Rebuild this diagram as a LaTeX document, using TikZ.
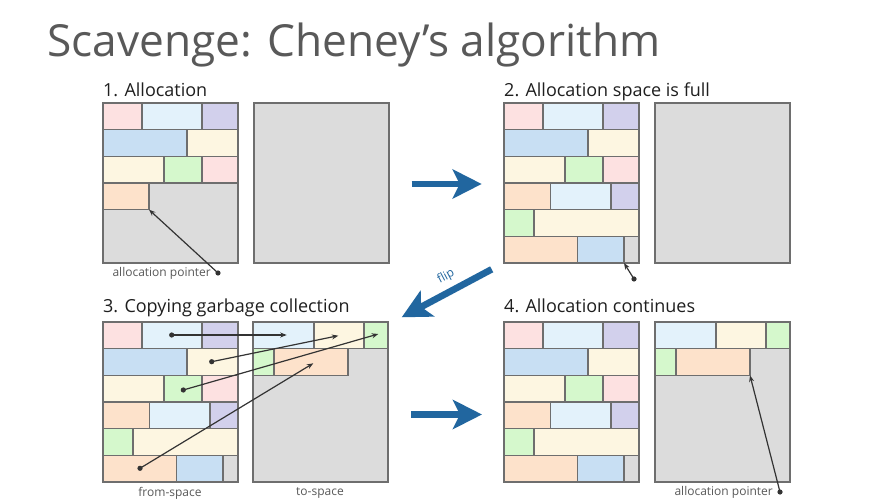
\documentclass[tikz,border=0pt]{standalone}
\usepackage{fontspec}
\setmainfont{Open Sans}
\usetikzlibrary{arrows.meta}
\definecolor{cpink}{HTML}{FDE1E1}
\definecolor{clblue}{HTML}{E3F2FB}
\definecolor{cpurple}{HTML}{D2D0EC}
\definecolor{cblue}{HTML}{C8DFF3}
\definecolor{ccream}{HTML}{FDF6E1}
\definecolor{cgreen}{HTML}{D5F8CC}
\definecolor{cpeach}{HTML}{FDE2CB}
\definecolor{cgray}{HTML}{DCDCDC}
\definecolor{cline}{HTML}{6E6E6E}
\definecolor{cbluearrow}{HTML}{21669F}
\definecolor{ctext}{HTML}{595959}
\definecolor{cptr}{HTML}{333333}
\tikzset{
  cell/.style={draw=cline, line width=1.1pt},
  spacebox/.style={draw=cline, line width=1.2pt, fill=cgray},
  heading/.style={anchor=base west, inner sep=0pt, font=\fontsize{18}{20}\selectfont, text=black!88},
  small/.style={inner sep=0pt, font=\fontsize{12}{14}\selectfont, text=ctext},
  bigarrow/.style={draw=cbluearrow, line width=6.7pt, -{Stealth[length=29pt,width=29pt,inset=7pt]}},
  ptr/.style={draw=cptr, line width=1.2pt, -{Stealth[length=6.5pt,width=5pt]}},
  ptrdot/.style={fill=cptr, draw=none},
}
% cell: x1 x2 row color
\newcommand{\cellrow}[4]{\draw[cell, fill=#4] (#1,{#3*26.667}) rectangle (#2,{(#3+1)*26.667});}
\newcommand{\fullfrom}{%
  \cellrow{0}{39}{0}{cpink}\cellrow{39}{99}{0}{clblue}\cellrow{99}{135}{0}{cpurple}
  \cellrow{0}{84}{1}{cblue}\cellrow{84}{135}{1}{ccream}
  \cellrow{0}{61}{2}{ccream}\cellrow{61}{99}{2}{cgreen}\cellrow{99}{135}{2}{cpink}
  \cellrow{0}{46.5}{3}{cpeach}\cellrow{46.5}{107}{3}{clblue}\cellrow{107}{135}{3}{cpurple}
  \cellrow{0}{30}{4}{cgreen}\cellrow{30}{135}{4}{ccream}
  \cellrow{0}{73.5}{5}{cpeach}\cellrow{73.5}{120}{5}{cblue}\cellrow{120}{135}{5}{cgray}
  \draw[cell, line width=1.2pt] (0,0) rectangle (135,160);}
\newcommand{\fullto}{%
  \draw[spacebox] (0,0) rectangle (135,160);
  \cellrow{0}{61}{0}{clblue}\cellrow{61}{111}{0}{ccream}\cellrow{111}{135}{0}{cgreen}
  \cellrow{0}{21}{1}{cgreen}\cellrow{21}{95}{1}{cpeach}
  \draw[cell, line width=1.2pt] (0,0) rectangle (135,160);}
\begin{document}
\begin{tikzpicture}[x=1pt,y=-1pt]
\useasboundingbox[fill=white] (0,0) rectangle (894,502);
% title
\node[anchor=base west, inner sep=0pt, font=\fontsize{44.2}{50}\selectfont, text=ctext] (title) at (47,57) {Scavenge: Cheney’s algorithm};
% headings
\node[heading] (h1) at (103,97) {1. Allocation};
\node[heading] (h2) at (504,97) {2. Allocation space is full};
\node[heading] (h3) at (103,313) {3. Copying garbage collection};
\node[heading] (h4) at (504,313) {4. Allocation continues};
% panel 1
\begin{scope}[shift={(103,103)}]
  \draw[spacebox] (0,0) rectangle (135,160);
  \cellrow{0}{39}{0}{cpink}\cellrow{39}{99}{0}{clblue}\cellrow{99}{135}{0}{cpurple}
  \cellrow{0}{84}{1}{cblue}\cellrow{84}{135}{1}{ccream}
  \cellrow{0}{61}{2}{ccream}\cellrow{61}{99}{2}{cgreen}\cellrow{99}{135}{2}{cpink}
  \cellrow{0}{46}{3}{cpeach}
  \draw[cell, line width=1.2pt] (0,0) rectangle (135,160);
  \coordinate (p1tip) at (46,106.667);
\end{scope}
\begin{scope}[shift={(254,103)}]
  \draw[spacebox] (0,0) rectangle (135,160);
\end{scope}
\coordinate (p1dot) at (218,273);
\node[small, anchor=east] (p1lab) at (211,273) {allocation pointer};
\draw[ptr] (p1dot) -- (p1tip);
\fill[ptrdot] (p1dot) circle (2.6pt);
% panel 2
\begin{scope}[shift={(504,103)}]
  \fullfrom
  \coordinate (p2tip) at (120,160);
\end{scope}
\begin{scope}[shift={(655,103)}]
  \draw[spacebox] (0,0) rectangle (135,160);
\end{scope}
\coordinate (p2dot) at (634,279);
\draw[ptr] (p2dot) -- (p2tip);
\fill[ptrdot] (p2dot) circle (2.6pt);
% panel 3
\begin{scope}[shift={(103,322)}]
  \fullfrom
\end{scope}
\begin{scope}[shift={(253,322)}]
  \fullto
\end{scope}
\coordinate (s1) at (171.7,335);   \coordinate (t1) at (286.7,335);
\coordinate (s2) at (211.7,361.7); \coordinate (t2) at (338.3,335.7);
\coordinate (s3) at (183.3,390);   \coordinate (t3) at (378.3,334);
\coordinate (s4) at (140,468.3);   \coordinate (t4) at (313.3,363.3);
\foreach \i in {1,2,3,4} {
  \draw[ptr] (s\i) -- (t\i);
  \fill[ptrdot] (s\i) circle (2.6pt);
}
\node[small] (fromlab) at (170,493) {from-space};
\node[small] (tolab) at (320,493) {to-space};
% panel 4
\begin{scope}[shift={(504,322)}]
  \fullfrom
\end{scope}
\begin{scope}[shift={(655,322)}]
  \fullto
  \coordinate (p4tip) at (95,53.333);
\end{scope}
\coordinate (p4dot) at (780,492);
\node[small, anchor=east] (p4lab) at (773,492) {allocation pointer};
\draw[ptr] (p4dot) -- (p4tip);
\fill[ptrdot] (p4dot) circle (2.6pt);
% big arrows
\coordinate (a1s) at (411.7,184); \coordinate (a1e) at (481.7,184);
\coordinate (a2s) at (491.7,269.3); \coordinate (a2e) at (401.7,317.3);
\coordinate (a3s) at (411,414.5); \coordinate (a3e) at (482,414.5);
\draw[bigarrow] (a1s) -- (a1e);
\draw[bigarrow] (a2s) -- (a2e);
\draw[bigarrow] (a3s) -- (a3e);
\node[inner sep=0pt, font=\fontsize{12}{14}\selectfont, text=cbluearrow, rotate=28] (flip) at (446,276.5) {flip};
\end{tikzpicture}
\end{document}
